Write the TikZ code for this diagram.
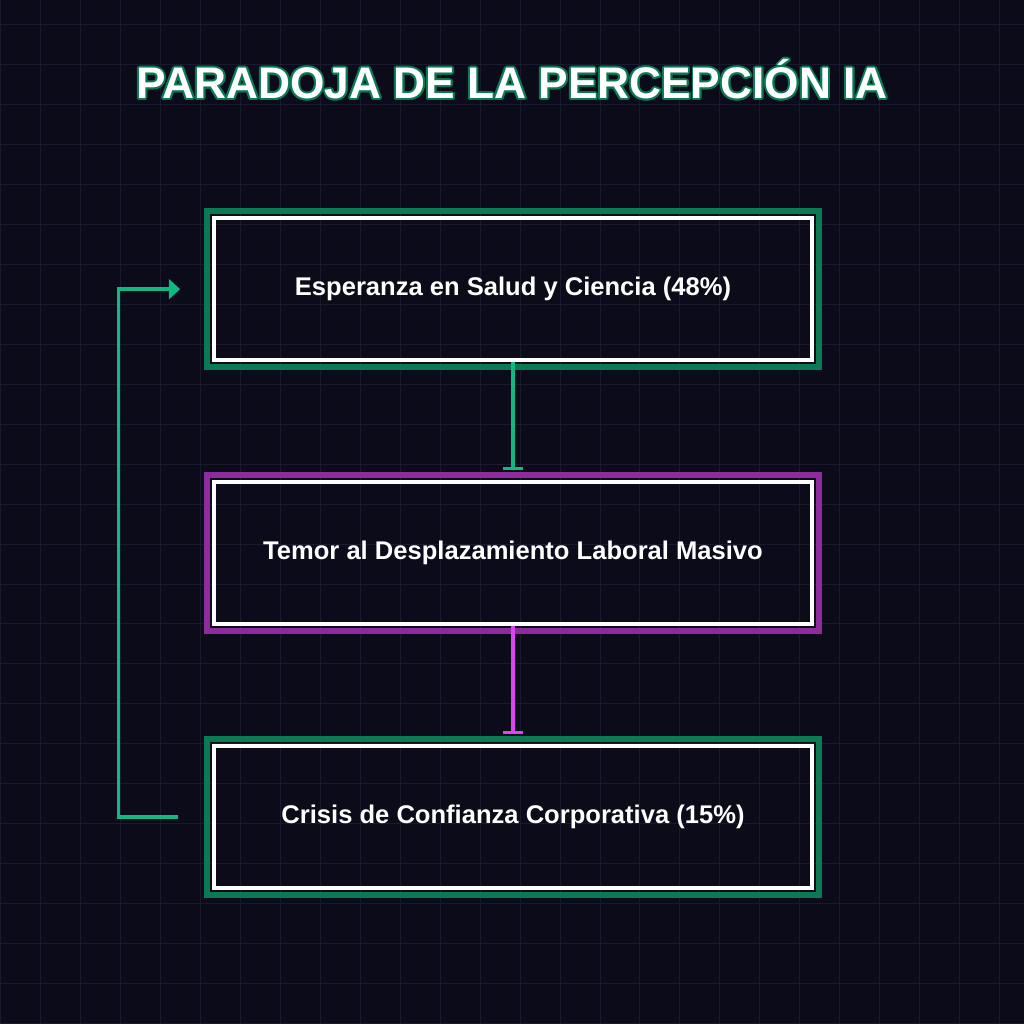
\documentclass[tikz,border=0pt]{standalone}
\usepackage{fontspec}
\setmainfont{Liberation Sans}
\usetikzlibrary{arrows.meta, positioning, calc}
\definecolor{bgdark}{HTML}{0B0B1A}
\definecolor{gridline}{HTML}{1A1A2E}
\definecolor{mint}{HTML}{10B981}
\definecolor{mintglow}{HTML}{0B7A52}
\definecolor{orchid}{HTML}{D946EF}
\definecolor{orchidglow}{HTML}{8E2C9E}

\begin{document}
\begin{tikzpicture}[
  >= {Triangle[length=8pt, width=14pt]}, % arrow head style
  node distance = 3cm,                    % gap between boxes
  font = \bfseries
  ]

  \tikzstyle{B1}=[      % Box with white border
  rectangle, draw = white, line width = 3pt,
  minimum width = 14.95cm, minimum height = 3.55cm,
  text = white, font = \bfseries\fontsize{18.2}{21}\selectfont
  ]

  % background and grid
  \fill[bgdark] (0,0) rectangle (25.6,25.6);
  \draw[gridline, line width = 0.6pt] (0,0) grid[step=1cm] (25.6,25.6);
  \useasboundingbox (0,0) rectangle (25.6,25.6);

  % title with outline
  \foreach \a in {0,30,...,330}
    \node[mintglow, font = \bfseries\fontsize{31.5}{34}\selectfont]
      at ($(12.8,23.62)+(\a:1.4pt)$) {PARADOJA DE LA PERCEPCIÓN IA};
  \node[white, font = \bfseries\fontsize{31.5}{34}\selectfont] (title)
    at (12.8,23.62) {PARADOJA DE LA PERCEPCIÓN IA};

  % boxes
  \node[B1] (hope) at (12.825,18.375) {Esperanza en Salud y Ciencia (48\%)};
  \node[B1] (fear) [below=2.95cm of hope] {Temor al Desplazamiento Laboral Masivo};
  \node[B1] (crisis) [below=2.95cm of fear] {Crisis de Confianza Corporativa (15\%)};

  % glow around the boxes
  \foreach \n/\c in {hope/mintglow, fear/orchidglow, crisis/mintglow}
    \draw[\c, line width = 4pt] ([shift={(-3.5pt,-3.5pt)}]\n.south west)
      rectangle ([shift={(3.5pt,3.5pt)}]\n.north east);

  % connectors
  \draw[mint, line width = 2.4pt, -{Bar[width=14pt]}, shorten >= 7pt] (hope) -- (fear);
  \draw[orchid, line width = 2.4pt, -{Bar[width=14pt]}, shorten >= 7pt] (fear) -- (crisis);
  \draw[mint, line width = 2.4pt, ->]
    ([xshift=-0.85cm]crisis.west) -- ++(-1.5cm,0) |- ([xshift=-0.8cm]hope.west);
\end{tikzpicture}
\end{document}
